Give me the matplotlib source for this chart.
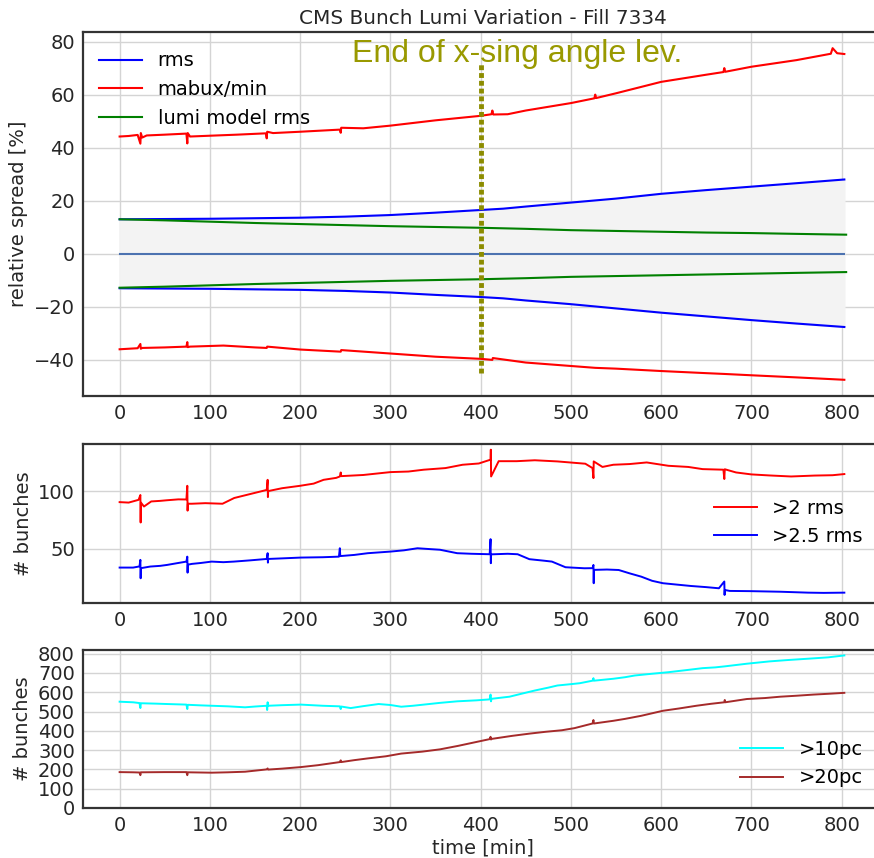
import numpy as np
import matplotlib
matplotlib.use("Agg")
import matplotlib.pyplot as plt

# ---------------- data ----------------
TITLE = "CMS Bunch Lumi Variation - Fill 7334"

# smooth curves (top panel)
T_SMOOTH = [0, 50, 100, 150, 200, 250, 300, 350, 400, 425, 450, 500, 550, 600, 650, 700, 750, 803]
RMS_UP = [13.0, 13.1, 13.2, 13.4, 13.6, 14.0, 14.6, 15.5, 16.5, 17.0, 17.8, 19.3, 20.8, 22.6, 24.0, 25.3, 26.6, 28.0]
RMS_LO = [-13.0, -13.1, -13.2, -13.4, -13.6, -14.0, -14.6, -15.5, -16.3, -16.8, -17.6, -19.0, -20.6, -22.2, -23.6, -25.0, -26.3, -27.6]
T_MODEL = [0, 50, 100, 150, 200, 250, 300, 350, 400, 425, 450, 500, 550, 600, 650, 700, 750, 805]
MODEL_UP = [13.0, 12.6, 12.1, 11.6, 11.2, 10.8, 10.4, 10.1, 9.8, 9.6, 9.4, 8.9, 8.6, 8.3, 8.0, 7.8, 7.5, 7.2]
MODEL_LO = [-12.8, -12.4, -11.9, -11.4, -11.0, -10.6, -10.2, -9.9, -9.6, -9.4, -9.2, -8.7, -8.4, -8.1, -7.8, -7.5, -7.2, -6.9]
ZERO = [0.0] * len(T_SMOOTH)

MABUX_MAX = [(0, 44.2), (10, 44.4), (20, 44.8), (23, 41.5), (23.5, 45.5), (25, 43.8), (30, 44.6), (50, 44.9),
             (74, 45.3), (75, 41.6), (75.5, 45.5), (78, 44.2), (100, 44.5), (130, 44.9), (162, 45.4),
             (163, 43.5), (163.5, 46.0), (170, 45.5), (200, 46.0), (244, 46.8), (245, 45.6), (245.5, 47.5),
             (270, 47.3), (300, 48.3), (350, 50.3), (400, 52.0), (412, 52.6), (413, 54.0), (414, 52.5),
             (430, 52.6), (450, 54.0), (500, 56.8), (526, 58.6), (527, 60.0), (528, 58.7), (550, 60.5),
             (600, 64.8), (650, 67.5), (669, 68.5), (670, 70.0), (671, 68.6), (700, 70.5), (750, 73.0),
             (788, 75.4), (790, 77.5), (795, 75.6), (803, 75.3)]
MABUX_MIN = [(0, -36.0), (20, -35.6), (23, -34.0), (23.5, -35.8), (25, -35.5), (50, -35.3), (74, -35.0),
             (75, -33.3), (75.5, -35.2), (78, -35.0), (115, -34.6), (150, -35.3), (163, -35.5),
             (163.5, -35.0), (200, -36.1), (245, -36.9), (245.5, -36.3), (300, -37.6), (350, -38.8),
             (400, -39.6), (413, -40.0), (413.5, -39.3), (450, -41.0), (500, -42.3), (527, -43.0),
             (550, -43.3), (600, -44.2), (650, -45.0), (670, -45.3), (700, -45.8), (750, -46.6), (803, -47.5)]

XSING_T = 400
XSING_RANGE = (-45.0, 71.5)
XSING_TEXT = "End of x-sing angle lev."

# middle panel: bunches beyond 2 / 2.5 rms
GT2RMS = [(0, 90.4), (10, 90.0), (21, 92.4), (23, 96.6), (23.3, 72.7), (23.6, 90), (27, 86.6), (35, 91),
          (45, 91.5), (52, 92), (65, 92.8), (74, 92.7), (75, 104.6), (75.3, 83), (75.6, 89), (80, 89),
          (95, 89.5), (114, 89), (127, 94), (145, 97.5), (163, 101), (164, 109.8), (164.3, 94.8),
          (164.6, 100), (180, 102.5), (200, 104.6), (215, 106.5), (226, 109.8), (240, 111.5), (244, 112.7),
          (245, 116.2), (245.5, 113), (270, 114), (300, 116.5), (320, 117), (337, 118.6), (361, 120),
          (380, 122.9), (398, 124), (405, 125.8), (411, 127.3), (411.3, 136), (411.6, 112.7), (420, 126),
          (440, 126), (460, 126.8), (485, 125.8), (505, 124.5), (516, 123.8), (524, 120), (525, 111.3),
          (525.3, 125.8), (535, 121), (547, 122.9), (565, 123.5), (584, 124.9), (608, 122), (630, 121),
          (646, 119.1), (669, 118.6), (670, 110.5), (670.5, 119), (683, 116.2), (700, 114.5), (720, 113.6),
          (744, 112.7), (770, 113.5), (790, 113.8), (803, 114.8)]
GT25RMS = [(0, 33.5), (15, 33.5), (22, 34.5), (23, 40.2), (23.3, 24.2), (23.6, 33), (34, 34.4), (45, 35),
           (52.5, 35.8), (65, 37.5), (74, 38.7), (75, 43), (75.3, 29.1), (75.6, 36), (80, 36.7), (90, 37.5),
           (102, 38.7), (115, 38.2), (126.6, 38.7), (145, 39.8), (163, 41), (164, 46), (164.3, 37.8),
           (164.6, 41), (180, 41.5), (200.8, 42.2), (225, 42.5), (243, 43), (244, 50.3), (244.5, 43.5),
           (260, 44.5), (275, 46), (300, 47.4), (315, 48.5), (330, 50.3), (345, 49.5), (355, 49), (374, 46),
           (390, 45.5), (410, 45.1), (411, 58.2), (411.3, 37.3), (411.6, 45), (430, 45.5), (441, 45.1),
           (454, 40.8), (470, 39.5), (479, 38.7), (494, 33.8), (515, 32.9), (524, 33), (525, 35.8),
           (525.3, 19.9), (525.6, 31.5), (540, 31.8), (553, 31.4), (565, 28.5), (578, 25.6), (590, 22),
           (602, 19.9), (620, 18.5), (633, 17.5), (650, 16.5), (664, 15.5), (670, 21.4), (670.3, 9.7),
           (670.6, 14), (676, 13.2), (700, 13), (732, 12.5), (763, 11.7), (780, 11.5), (803, 11.7)]

# bottom panel: bunches beyond 10 / 20 percent
GT10PC = [(0, 551), (15, 548), (22, 544), (23, 518), (23.5, 543), (40, 541), (52.5, 539), (74, 536), (75, 513),
          (75.5, 535), (90, 532), (102, 530), (120, 527), (139, 522), (150, 526), (163, 530), (163.5, 508),
          (164, 548), (164.5, 530), (180, 533), (200.8, 536), (225, 530), (244, 527), (245, 513), (245.5, 526),
          (256, 518), (270, 528), (287, 539), (300, 534), (312, 525), (325, 530), (337, 536), (355, 545),
          (374, 553), (395, 558), (410, 563), (411, 588), (411.5, 553), (412, 566), (432, 577), (445, 592),
          (460, 609), (475, 624), (485, 635), (500, 642), (510, 647), (524, 660), (525, 673), (525.5, 660),
          (547, 670), (560, 678), (571, 687), (590, 696), (608, 704), (630, 716), (646, 725), (660, 729),
          (670, 734), (695, 748), (720, 760), (740, 767), (763, 774), (785, 781), (803, 791)]
GT20PC = [(0, 186), (15, 185), (22, 184), (23, 170), (23.5, 185), (50, 186), (74, 186), (75, 170), (75.5, 185),
          (102, 183), (120, 185), (139, 188), (163, 200), (164, 205), (164.5, 199), (180, 204), (200.8, 212),
          (220, 222), (244, 238), (245, 247), (245.5, 238), (260, 248), (275, 257), (295, 268), (312, 282),
          (335, 292), (355, 304), (375, 322), (392, 339), (410, 357), (411, 369), (411.5, 355), (412, 358),
          (435, 374), (455, 386), (472, 395), (490, 403), (504, 414), (524, 438), (525, 456), (525.5, 438),
          (547, 452), (560, 462), (578, 478), (602, 504), (620, 516), (639, 530), (655, 540), (670, 548),
          (670.5, 560), (671, 548), (695, 565), (715, 570), (732, 577), (750, 582), (769, 588), (785, 592),
          (803, 597)]

XTICKS = [0, 100, 200, 300, 400, 500, 600, 700, 800]
TOP_YTICKS = [-40, -20, 0, 20, 40, 60, 80]
MID_YTICKS = [50, 100]
BOT_YTICKS = [0, 100, 200, 300, 400, 500, 600, 700, 800]


def unzip(pairs):
    a = np.array(pairs, dtype=float)
    return a[:, 0], a[:, 1]


# ---------------- style ----------------
plt.rcParams['font.family'] = ['DejaVu Sans']
plt.rcParams['font.size'] = 14
TXT = '#262626'
GRID = '#d4d4d4'
SPINE = '#333333'

fig = plt.figure(figsize=(8.74, 8.58), dpi=100)
L, W = 0.0953, 0.9144
ax1 = fig.add_axes([L, 0.5385, W, 0.4239])
ax2 = fig.add_axes([L, 0.2976, W, 0.1850])
ax3 = fig.add_axes([L, 0.0583, W, 0.1841])

for ax in (ax1, ax2, ax3):
    ax.set_facecolor('white')
    ax.grid(True, color=GRID, linewidth=1.0)
    ax.set_axisbelow(True)
    for s in ax.spines.values():
        s.set_color(SPINE)
        s.set_linewidth(1.6)
    ax.tick_params(length=0, labelsize=14, labelcolor=TXT, pad=6)
    ax.set_xlim(-40.25, 845.25)
    ax.set_xticks(XTICKS)

# ---- top panel ----
ts = np.array(T_SMOOTH, dtype=float)
ax1.fill_between(ts, RMS_LO, RMS_UP, color='#f3f3f3', zorder=1)
ax1.plot(ts, ZERO, color='#4c72b0', lw=1.5, zorder=2)
ax1.plot(ts, RMS_UP, color='blue', lw=1.5, label='rms', zorder=3)
ax1.plot(ts, RMS_LO, color='blue', lw=1.5, zorder=3)
t, v = unzip(MABUX_MAX)
ax1.plot(t, v, color='red', lw=1.5, label='mabux/min', zorder=3)
t, v = unzip(MABUX_MIN)
ax1.plot(t, v, color='red', lw=1.5, zorder=3)
tm = np.array(T_MODEL, dtype=float)
ax1.plot(tm, MODEL_UP, color='green', lw=1.5, label='lumi model rms', zorder=3)
ax1.plot(tm, MODEL_LO, color='green', lw=1.5, zorder=3)
ax1.plot([XSING_T, XSING_T], XSING_RANGE, color='#8c8c00', lw=3.5, linestyle=(0, (1, 0.6)), zorder=4)
ax1.text(257, 72.3, XSING_TEXT, color='#999900', fontsize=23, family='Liberation Sans',
         ha='left', va='baseline', zorder=5)
ax1.set_ylim(-53.6, 83.5)
ax1.set_yticks(TOP_YTICKS)
ax1.set_yticklabels([f"{x}".replace('-', '\u2212') for x in TOP_YTICKS])
ax1.set_ylabel('relative spread [%]', fontsize=14, color=TXT)
ax1.set_title(TITLE, fontsize=14.4, color=TXT, pad=6)
ax1.legend(loc='upper left', frameon=False, fontsize=14, handlelength=2.2,
           labelspacing=0.5, borderaxespad=0.3, bbox_to_anchor=(0.003, 0.985))

# ---- middle panel ----
t, v = unzip(GT2RMS)
ax2.plot(t, v, color='red', lw=1.4, label='>2 rms')
t, v = unzip(GT25RMS)
ax2.plot(t, v, color='blue', lw=1.4, label='>2.5 rms')
ax2.set_ylim(3, 141)
ax2.set_yticks(MID_YTICKS)
ax2.set_ylabel('# bunches', fontsize=14, color=TXT)
ax2.legend(loc='lower right', frameon=False, fontsize=14, handlelength=2.2,
           labelspacing=0.5, bbox_to_anchor=(0.997, 0.245))

# ---- bottom panel ----
t, v = unzip(GT10PC)
ax3.plot(t, v, color='cyan', lw=1.4, label='>10pc')
t, v = unzip(GT20PC)
ax3.plot(t, v, color='#a52a2a', lw=1.4, label='>20pc')
ax3.set_ylim(0, 819)
ax3.set_yticks(BOT_YTICKS)
ax3.set_ylabel('# bunches', fontsize=14, color=TXT)
ax3.set_xlabel('time [min]', fontsize=14, color=TXT, labelpad=2)
ax3.legend(loc='lower right', frameon=False, fontsize=14, handlelength=2.2,
           labelspacing=0.5, bbox_to_anchor=(0.997, 0.02))

fig.savefig('out.png', dpi=100)
